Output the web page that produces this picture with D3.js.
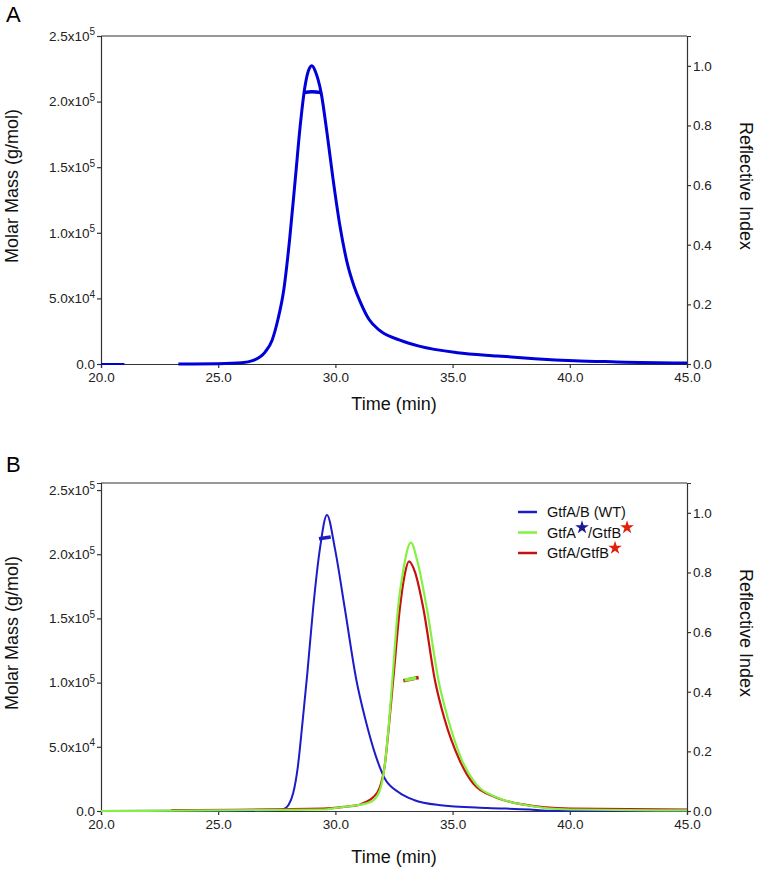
<!DOCTYPE html>
<html>
<head>
<meta charset="utf-8">
<script src="https://cdn.jsdelivr.net/npm/d3@7"></script>
<style>
  body { margin: 0; background: #fff; }
  svg { font-family: "Liberation Sans", Arial, sans-serif; }
  .axis path, .axis line { stroke: #333; stroke-width: 1.2; }
  .axis text { fill: #222; font-size: 13.5px; }
</style>
</head>
<body>
<svg id="chart" width="762" height="871"></svg>
<script>
// ---------- data ----------
const timeTicks = [20, 25, 30, 35, 40, 45];
const massTicks = [0, 5e4, 1e5, 1.5e5, 2e5, 2.5e5];
const riTicks = [0, 0.2, 0.4, 0.6, 0.8, 1.0];

// panel A : single sample, refractive index trace
const aTime = [23.3, 25.0, 26.0, 26.5, 27.0, 27.3, 27.55, 27.8, 28.05, 28.3, 28.5, 28.7, 28.88, 29.0, 29.15, 29.39, 29.65, 29.9, 30.2, 30.5, 30.8, 31.05, 31.43, 31.9, 32.75, 33.57, 35.2, 36.9, 38.5, 40.2, 42.0, 43.0, 45.0];
const aRI   = [0.0, 0.001, 0.004, 0.012, 0.04, 0.08, 0.15, 0.25, 0.42, 0.63, 0.80, 0.93, 0.99, 1.0, 0.98, 0.91, 0.77, 0.62, 0.46, 0.34, 0.26, 0.21, 0.15, 0.112, 0.08, 0.06, 0.038, 0.027, 0.018, 0.011, 0.007, 0.005, 0.003];
const aMassTime = [28.66, 29.0, 29.39];
const aMass     = [2.07e5, 2.075e5, 2.07e5];
const aNoiseTime = [20.0, 21.0];
const aNoise     = [0, 0];

// panel B : wild type and two mutants (\u2605 marks a starred subunit)
const seriesNames = ['GtfA/B (WT)', 'GtfA\u2605/GtfB\u2605', 'GtfA/GtfB\u2605'];

const wtTime = [20.0, 27.5, 27.76, 28.0, 28.2, 28.4, 28.6, 28.8, 29.05, 29.34, 29.64, 29.98, 30.4, 30.9, 31.27, 31.7, 32.1, 32.7, 33.35, 34.4, 36.5, 38.3, 39.0, 45.0];
const wtRI   = [0.0, 0.002, 0.005, 0.02, 0.06, 0.15, 0.30, 0.46, 0.68, 0.88, 0.993, 0.88, 0.68, 0.437, 0.31, 0.19, 0.11, 0.063, 0.037, 0.02, 0.01, 0.005, 0.001, 0.0];

const abTime = [20.0, 29.5, 30.0, 30.5, 31.0, 31.3, 31.6, 31.9, 32.1, 32.3, 32.45, 32.67, 32.9, 33.22, 33.5, 33.9, 34.4, 34.8, 35.4, 36.0, 36.9, 38.1, 40.0, 45.0];
const abRI   = [0.0, 0.005, 0.01, 0.015, 0.02, 0.025, 0.035, 0.07, 0.15, 0.31, 0.46, 0.68, 0.81, 0.90, 0.837, 0.68, 0.437, 0.31, 0.17, 0.09, 0.045, 0.02, 0.005, 0.002];

const bTime = [23.0, 29.5, 30.5, 31.0, 31.3, 31.6, 31.9, 32.1, 32.3, 32.5, 32.75, 32.95, 33.14, 33.4, 33.75, 34.25, 34.65, 35.3, 35.9, 36.8, 38.0, 40.0, 45.0];
const bRI   = [0.003, 0.008, 0.015, 0.02, 0.03, 0.045, 0.08, 0.15, 0.30, 0.47, 0.68, 0.79, 0.837, 0.80, 0.68, 0.437, 0.31, 0.17, 0.09, 0.047, 0.022, 0.008, 0.005];

const wtMassTime = [29.3, 29.8];
const wtMass     = [2.12e5, 2.135e5];
const abMassTime = [32.95, 33.45];
const abMass     = [1.02e5, 1.035e5];
const bMassTime  = [32.9, 33.55];
const bMass      = [1.015e5, 1.04e5];

// ---------- options ----------
const chart = {
  width: 586,
  height: 328,
  left: 101,
  colors: {
    a: '#0000d8',
    wt: '#1c1cc8',
    ab: '#84f040',
    b: '#c81010',
    starBlue: '#1a1a90',
    starRed: '#e2200c'
  }
};

function translate(x, y) {
  return `translate(${x}, ${y})`;
}

function zip(xs, ys) {
  return xs.map((x, i) => ({x: x, y: ys[i]}));
}

function massLabel(sel) {
  sel.each(function(d) {
    const t = d3.select(this);
    t.text(null);
    if (d === 0) { t.text('0.0'); return; }
    const exp = Math.floor(Math.log10(d));
    const mant = (d / Math.pow(10, exp)).toFixed(1);
    t.append('tspan').text(`${mant}x10`);
    t.append('tspan').attr('dy', '-0.55em').attr('font-size', '10px').text(exp);
  });
}

const svg = d3.select('#chart');

// ---------- one panel ----------
chart.drawPanel = function(top, letter, letterY, massMax, titleGap) {
  const g = svg.append('g').attr('transform', translate(chart.left, top));

  const x = d3.scaleLinear().domain([20, 45]).range([0, chart.width]);
  const yMass = d3.scaleLinear().domain([0, massMax]).range([chart.height, 0]);
  const yRI = d3.scaleLinear().domain([0, 1.1]).range([chart.height, 0]);

  // frame top line
  g.append('line')
    .attr('x1', 0).attr('x2', chart.width)
    .attr('y1', 0).attr('y2', 0)
    .attr('stroke', '#333').attr('stroke-width', 1.2);

  g.append('g')
    .attr('class', 'x axis')
    .attr('transform', translate(0, chart.height))
    .call(d3.axisBottom(x).tickValues(timeTicks).tickSize(4).tickPadding(4).tickFormat(d3.format('.1f')));

  const yl = g.append('g')
    .attr('class', 'y-left axis')
    .call(d3.axisLeft(yMass).tickValues(massTicks).tickSize(4).tickPadding(2));
  yl.selectAll('.tick text').call(massLabel);

  g.append('g')
    .attr('class', 'y-right axis')
    .attr('transform', translate(chart.width, 0))
    .call(d3.axisRight(yRI).tickValues(riTicks).tickSize(4).tickPadding(2).tickFormat(d3.format('.1f')));

  g.selectAll('.domain').attr('stroke', '#333');

  // axis titles
  g.append('text')
    .attr('x', chart.width / 2).attr('y', chart.height + titleGap)
    .attr('text-anchor', 'middle').attr('font-size', '18px').attr('fill', '#111')
    .text('Time (min)');

  g.append('text')
    .attr('transform', translate(-83, chart.height / 2 - 14) + ' rotate(-90)')
    .attr('text-anchor', 'middle').attr('font-size', '18px').attr('fill', '#111')
    .text('Molar Mass (g/mol)');

  g.append('text')
    .attr('transform', translate(chart.width + 53, chart.height / 2 - 14) + ' rotate(90)')
    .attr('text-anchor', 'middle').attr('font-size', '18px').attr('fill', '#111')
    .text('Reflective Index');

  svg.append('text')
    .attr('x', 6).attr('y', letterY)
    .attr('font-size', '22px').attr('fill', '#000')
    .text(letter);

  return {g: g, x: x, yMass: yMass, yRI: yRI};
};

chart.addLine = function(p, data, yScale, color, width) {
  const line = d3.line()
    .x(d => p.x(d.x))
    .y(d => yScale(d.y))
    .curve(d3.curveMonotoneX);
  p.g.append('path')
    .datum(data)
    .attr('d', line)
    .attr('fill', 'none')
    .attr('stroke', color)
    .attr('stroke-width', width)
    .attr('stroke-linejoin', 'round');
};

// ---------- panel A ----------
const pA = chart.drawPanel(36, 'A', 22, 2.5e5, 46);
chart.addLine(pA, zip(aNoiseTime, aNoise), pA.yMass, chart.colors.a, 2);
chart.addLine(pA, zip(aTime, aRI), pA.yRI, chart.colors.a, 3);
chart.addLine(pA, zip(aMassTime, aMass), pA.yMass, chart.colors.a, 3.5);

// ---------- panel B ----------
const pB = chart.drawPanel(483, 'B', 472, 2.555e5, 52);
chart.addLine(pB, zip(wtTime, wtRI), pB.yRI, chart.colors.wt, 2);
chart.addLine(pB, zip(bTime, bRI), pB.yRI, chart.colors.b, 2.2);
chart.addLine(pB, zip(abTime, abRI), pB.yRI, chart.colors.ab, 2.2);
chart.addLine(pB, zip(wtMassTime, wtMass), pB.yMass, chart.colors.wt, 3.5);
chart.addLine(pB, zip(bMassTime, bMass), pB.yMass, chart.colors.b, 3.5);
chart.addLine(pB, zip(abMassTime, abMass), pB.yMass, chart.colors.ab, 3.5);

// legend
const legendColors = [chart.colors.wt, chart.colors.ab, chart.colors.b];
const starColors = [[], [chart.colors.starBlue, chart.colors.starRed], [chart.colors.starRed]];
const star = d3.symbol().type(d3.symbolStar).size(58);

const legend = pB.g.append('g').attr('transform', translate(417, 29));
const items = legend.selectAll('g').data(seriesNames).enter()
  .append('g')
  .attr('transform', (d, i) => translate(0, i * 20.5));
items.append('line')
  .attr('x1', 0).attr('x2', 19)
  .attr('stroke', (d, i) => legendColors[i])
  .attr('stroke-width', 2.5);
items.each(function(d, i) {
  const item = d3.select(this);
  let pos = 29;
  d.split('\u2605').forEach((s, k) => {
    if (s.length) {
      const t = item.append('text')
        .attr('x', pos).attr('y', 5)
        .attr('font-size', '14.5px').attr('fill', '#111')
        .text(s);
      pos += t.node().getComputedTextLength();
    }
    if (k < starColors[i].length) {
      item.append('path')
        .attr('d', star)
        .attr('transform', translate(pos + 6, -5))
        .attr('fill', starColors[i][k]);
      pos += 12;
    }
  });
});
</script>
</body>
</html>
